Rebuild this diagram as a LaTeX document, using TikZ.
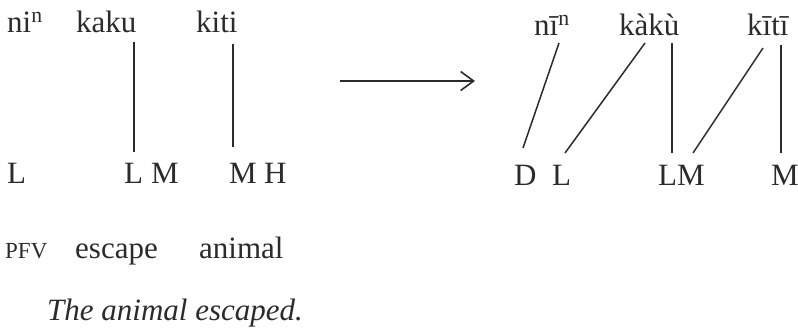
\documentclass[tikz,border=0pt]{standalone}
\usepackage{fontspec}
\setmainfont{Liberation Serif}
\usetikzlibrary{arrows.meta}
\definecolor{ink}{HTML}{2B2B2B}
\begin{document}
\begin{tikzpicture}[x=1pt,y=-1pt,
  tx/.style={font=\fontsize{31}{36}\selectfont, inner sep=0pt, anchor=base west, text=ink},
  gl/.style={font=\fontsize{23}{28}\selectfont, inner sep=0pt, anchor=base west, text=ink},
  tr/.style={font=\fontsize{31}{36}\selectfont\itshape, inner sep=0pt, anchor=base west, text=ink},
  assoc/.style={draw=ink, line width=1.5pt},
  bigarrow/.style={draw=ink, line width=1.6pt, -{Straight Barb[length=13pt,width=19pt,line width=1.6pt]}}]
\useasboundingbox (0,0) rectangle (798,332);
% left: input
\node[tx] (lni) at (7,32) {ni\textsuperscript{n}};
\node[tx] (lkaku) at (76,32) {kaku};
\node[tx] (lkiti) at (196,32) {kiti};
\node[tx] (lL1) at (7,183) {L};
\node[tx] (lL2) at (124,183) {L};
\node[tx] (lM1) at (151,183) {M};
\node[tx] (lM2) at (229,183) {M};
\node[tx] (lH) at (264,183) {H};
\node[gl] (gpfv) at (5,258) {PFV};
\node[tx] (gesc) at (75,258) {escape};
\node[tx] (gani) at (199,258) {animal};
\node[tr] (trans) at (47,320) {The animal escaped.};
\coordinate (a1t) at (134,42); \coordinate (a1b) at (134,152);
\coordinate (a2t) at (233,44); \coordinate (a2b) at (233,147);
\draw[assoc] (a1t) -- (a1b);
\draw[assoc] (a2t) -- (a2b);
% arrow
\coordinate (arS) at (340,81); \coordinate (arE) at (475,81);
\draw[bigarrow] (arS) -- (arE);
% right: output
\node[tx] (rni) at (534,35) {nī\textsuperscript{n}};
\node[tx] (rkaku) at (619,35) {kàkù};
\node[tx] (rkiti) at (747,35) {kītī};
\node[tx] (rD) at (514,185) {D};
\node[tx] (rL) at (552,185) {L};
\node[tx] (rLM) at (658,185) {LM};
\node[tx] (rM) at (771,185) {M};
\coordinate (b1t) at (559,43); \coordinate (b1b) at (523,148);
\coordinate (b2t) at (645,43); \coordinate (b2b) at (565,153);
\coordinate (b3t) at (672,43); \coordinate (b3b) at (672,153);
\coordinate (b4t) at (763,48); \coordinate (b4b) at (693,153);
\coordinate (b5t) at (781,45); \coordinate (b5b) at (781,153);
\draw[assoc] (b1t) -- (b1b);
\draw[assoc] (b2t) -- (b2b);
\draw[assoc] (b3t) -- (b3b);
\draw[assoc] (b4t) -- (b4b);
\draw[assoc] (b5t) -- (b5b);
\end{tikzpicture}
\end{document}
